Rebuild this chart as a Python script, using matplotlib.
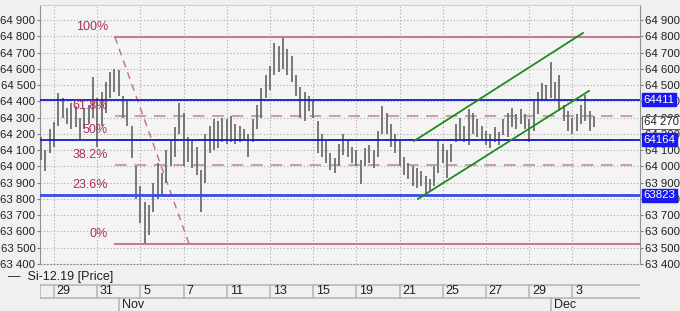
import numpy as np
import matplotlib.pyplot as plt
from matplotlib.transforms import blended_transform_factory

plt.rcParams['font.family'] = ['Liberation Sans', 'DejaVu Sans']

# intraday bars (~5 per trading day), Oct 28 .. Dec 3
bar_high = [64180, 64100, 64230, 64270, 64450, 64420, 64360, 64390, 64370, 64300,
            64360, 64380, 64550, 64420, 64460, 64520, 64580, 64600, 64590, 64430,
            64400, 64250, 64000, 63880, 63780, 63760, 63900, 64020, 63960, 64100,
            64160, 64240, 64390, 64330, 64180, 64160, 64120, 63980, 64200, 64250,
            64290, 64280, 64300, 64290, 64310, 64260, 64250, 64230, 64200, 64290,
            64380, 64480, 64560, 64620, 64760, 64740, 64790, 64720, 64680, 64560,
            64490, 64460, 64430, 64400, 64280, 64200, 64160, 64080, 64050, 64140,
            64200, 64160, 64120, 64100, 64040, 64110, 64130, 64100, 64220, 64370,
            64330, 64260, 64200, 64160, 64060, 64020, 64000, 63990, 63970, 63940,
            63920, 64000, 64160, 64140, 64100, 64140, 64260, 64300, 64250, 64350,
            64330, 64290, 64250, 64220, 64200, 64240, 64210, 64290, 64330, 64360,
            64320, 64350, 64320, 64290, 64400, 64460, 64510, 64500, 64640, 64520,
            64560, 64380, 64340, 64300, 64320, 64380, 64440, 64340, 64310]
bar_low = [64040, 63970, 64080, 64120, 64250, 64300, 64260, 64230, 64240, 64170,
           64230, 64260, 64300, 64120, 64250, 64330, 64420, 64460, 64430, 64300,
           64250, 64050, 63800, 63650, 63530, 63580, 63720, 63800, 63830, 63900,
           64000, 64060, 64200, 64000, 64030, 63990, 63950, 63720, 63900, 64080,
           64100, 64110, 64150, 64140, 64150, 64140, 64150, 64160, 64060, 64150,
           64230, 64300, 64420, 64470, 64560, 64580, 64600, 64560, 64520, 64430,
           64300, 64280, 64340, 64300, 64080, 64060, 64020, 63980, 63960, 64000,
           64070, 64060, 64020, 64000, 63890, 64000, 64020, 63990, 64060, 64200,
           64200, 64120, 64080, 64000, 63950, 63920, 63880, 63870, 63880, 63830,
           63850, 63880, 63960, 64020, 63930, 64030, 64150, 64170, 64150, 64130,
           64200, 64180, 64160, 64130, 64110, 64150, 64130, 64190, 64180, 64240,
           64230, 64260, 64230, 64150, 64220, 64320, 64400, 64400, 64420, 64410,
           64340, 64280, 64220, 64200, 64220, 64260, 64280, 64220, 64240]

day_labels = ["29", "31", "5", "7", "11", "13", "15", "19", "21", "25", "27", "29", "3"]
day_index = [1, 3, 5, 7, 9, 11, 13, 15, 17, 19, 21, 23, 25]
month_labels = ["Nov", "Dec"]
month_index = [4, 24]

fib_high = 64795
fib_low = 63525
fib_levels = [0.0, 0.236, 0.382, 0.5, 0.618, 1.0]
fib_names = ["0%", "23.6%", "38.2%", "50%", "61.8%", "100%"]
fib_start, fib_end = 3.82, 7.25

hlines = [64411, 64164, 63823]
last_price = 64270

channel_upper = ([17.67, 25.49], [64156, 64820])
channel_lower = ([17.85, 25.77], [63800, 64464])

FS = 8.2

fig = plt.figure(figsize=(6.8, 3.11), dpi=100)
fig.patch.set_facecolor("#f0f0f0")
ax = fig.add_axes([40 / 680, 1 - 264 / 311, 600 / 680, 259 / 311])
ax.set_facecolor("#f4f4f4")
ax.set_xlim(0.352, 28.13)
ax.set_ylim(63400, 64992)

# grid
for p in range(63400, 65000, 100):
    ax.axhline(p, color="#a8a8a8", lw=0.8, ls=(0, (1, 2)), zorder=0)
for d in day_index:
    ax.axvline(d, color="#a8a8a8", lw=0.8, ls=(0, (1, 2)), zorder=0)

# bars
xs = 0.4 + 0.2 * np.arange(len(bar_high))
ax.vlines(xs, bar_low, bar_high, color="#6e6e6e", lw=1.3, zorder=3)

# fibonacci
fib_col = "#c77a98"
for lev, name in zip(fib_levels, fib_names):
    p = fib_low + lev * (fib_high - fib_low)
    if lev in (0.0, 1.0):
        ax.plot([fib_start, 29], [p, p], color=fib_col, lw=1.5, zorder=2)
    else:
        ax.plot([fib_start, 29], [p, p], color="#cc9aae", lw=1.4, ls=(0, (6, 4)), zorder=2)
    ax.text(3.5, p + 25, name, ha="right", va="bottom", color="#a8305e", fontsize=9, zorder=6)
ax.plot([fib_start, fib_end], [fib_high, fib_low], color="#c4688c", lw=1.0, ls=(0, (5, 4)), zorder=2)

# horizontal lines
ax.axhline(hlines[0], color="#1818c8", lw=1.3, zorder=4)
ax.axhline(hlines[1], color="#1818c8", lw=1.3, zorder=4)
ax.axhline(hlines[2], color="#3a4af0", lw=2.0, zorder=4)

# channel
ax.plot(*channel_upper, color="#1c8c1c", lw=1.3, zorder=5)
ax.plot(*channel_lower, color="#1c8c1c", lw=1.3, zorder=5)

# axes styling
ticks = list(range(63400, 65000, 100))
ax.set_yticks(ticks)
ax.set_yticklabels(["{:,}".format(t).replace(",", " ") for t in ticks])
ax.set_xticks([])
ax.tick_params(axis="y", which="both", left=True, right=True, labelleft=True, labelright=True,
               direction="out", length=2.5, color="#808080", labelsize=FS, pad=0.8, labelcolor="#202020")
for s in ("left", "right"):
    ax.spines[s].set_color("#909090")
ax.spines["top"].set_color("#d0d0d0")
ax.spines["bottom"].set_linestyle((0, (1, 2)))
ax.spines["bottom"].set_color("#909090")

# right side value boxes
tr = blended_transform_factory(ax.transAxes, ax.transData)
for v in hlines:
    ax.text(1.006, v, str(v), transform=tr, ha="left", va="center", fontsize=FS, color="white",
            bbox=dict(boxstyle="square,pad=0.12", fc="#1a1af0", ec="#1a1af0"), zorder=10, clip_on=False)
ax.text(1.006, last_price, "{:,}".format(last_price).replace(",", " "), transform=tr, ha="left", va="center",
        fontsize=FS, color="#202020",
        bbox=dict(boxstyle="square,pad=0.12", fc="white", ec="#606060", lw=0.8), zorder=10, clip_on=False)

# date band
axd = fig.add_axes([40 / 680, 0, 600 / 680, 27 / 311])
axd.set_xlim(ax.get_xlim())
axd.set_ylim(0, 27)
axd.set_facecolor("#f0f0f0")
axd.axis("off")
axd.axhline(26.5, color="#b8b8b8", lw=1.2)
axd.axhline(13, color="#b8b8b8", lw=1.2)
axd.axvline(0.352, ymin=13 / 27, ymax=1, color="#b8b8b8", lw=1.2)
for d, lab in zip(day_index, day_labels):
    axd.plot([d, d], [13, 27], color="#b8b8b8", lw=1.2)
    axd.text(d + 0.13, 20, lab, ha="left", va="center", fontsize=9, color="#202020")
for m, lab in zip(month_index, month_labels):
    axd.plot([m, m], [0, 13], color="#b8b8b8", lw=1.2)
    axd.text(m + 0.13, 6, lab, ha="left", va="center", fontsize=9, color="#202020")

fig.text(8 / 680, 1 - 277 / 311, "\u2014  Si-12.19 [Price]", ha="left", va="center", fontsize=9, color="#202020")

fig.savefig("out.png", dpi=100, facecolor=fig.get_facecolor())
